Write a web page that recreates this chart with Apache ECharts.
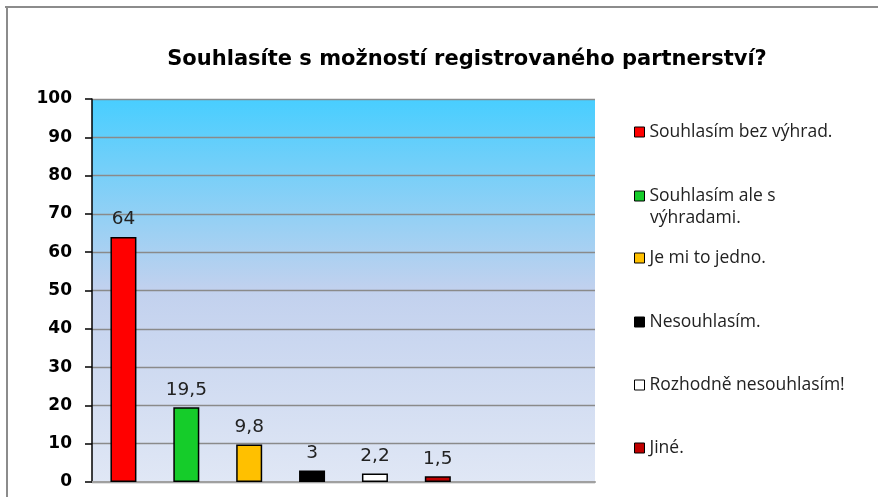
<!DOCTYPE html>
<html>
<head>
<meta charset="utf-8">
<script src="https://cdn.jsdelivr.net/npm/echarts@6/dist/echarts.min.js"></script>
<style>
html, body { margin: 0; padding: 0; background: #fff; }
#chart { width: 878px; height: 497px; }
</style>
</head>
<body>
<div id="chart"></div>
<script>
const categories = ["1", "2", "3", "4", "5", "6", "7", "8"];
const seriesNames = [
  "Souhlasím bez výhrad.",
  "Souhlasím ale s výhradami.",
  "Je mi to jedno.",
  "Nesouhlasím.",
  "Rozhodně nesouhlasím!",
  "Jiné."
];
const values = [64, 19.5, 9.8, 3, 2.2, 1.5];
const colors = ["#FF0000", "#15CC2A", "#FFC000", "#000000", "#FFFFFF", "#C00000"];
// first legend line per series; the green one wraps onto a second line
const legendLabels = [
  "Souhlasím bez výhrad.",
  "Souhlasím ale s",
  "Je mi to jedno.",
  "Nesouhlasím.",
  "Rozhodně nesouhlasím!",
  "Jiné."
];
const legendWrap = "výhradami.";
const legendCenters = [132, 196, 258, 322, 385, 448];

const chart = echarts.init(document.getElementById("chart"));

const series = seriesNames.map(function (name, i) {
  const data = categories.map(function (c, j) { return j === i ? values[i] : null; });
  return {
    name: name,
    type: "bar",
    data: data,
    barWidth: 26,
    barGap: "-100%",
    itemStyle: { color: colors[i], borderColor: "#000", borderWidth: 1.5 },
    label: {
      show: true,
      position: "top",
      distance: 8,
      color: "#222",
      fontFamily: "DejaVu Sans",
      fontSize: 18.5,
      formatter: function (p) { return String(p.value).replace(".", ","); }
    }
  };
});

const legends = seriesNames.map(function (name, i) {
  return {
    data: [name],
    left: 629,
    top: legendCenters[i] - 15.5,
    icon: "rect",
    itemWidth: 10,
    itemHeight: 10,
    itemStyle: { borderColor: "#000", borderWidth: 1 },
    textStyle: {
      fontFamily: "Open Sans",
      fontSize: 17.5,
      color: "#222",
      lineHeight: 21
    },
    formatter: function () { return legendLabels[i]; },
    selectedMode: false
  };
});

const option = {
  backgroundColor: "#fff",
  animation: false,
  title: {
    text: "Souhlasíte s možností registrovaného partnerství?",
    left: 462,
    textAlign: "center",
    top: 44,
    textStyle: { fontFamily: "DejaVu Sans", fontWeight: "bold", fontSize: 21, color: "#000" }
  },
  legend: legends,
  grid: { left: 92, right: 283, top: 99, bottom: 15, show: true, borderWidth: 0,
    backgroundColor: new echarts.graphic.LinearGradient(0, 0, 0, 1, [
      { offset: 0, color: "#48CEFF" },
      { offset: 0.5, color: "#C2D1EE" },
      { offset: 1, color: "#E0E7F5" }
    ])
  },
  xAxis: {
    type: "category",
    data: categories,
    axisLine: { lineStyle: { color: "#A0A0A0", width: 2 } },
    axisTick: { show: false },
    axisLabel: { show: false }
  },
  yAxis: {
    type: "value",
    min: 0,
    max: 100,
    interval: 10,
    axisLine: { show: true, lineStyle: { color: "#000", width: 1.5 } },
    axisTick: { show: true, length: 7, lineStyle: { color: "#000", width: 1.5 } },
    axisLabel: { margin: 20, fontFamily: "DejaVu Sans", fontWeight: "bold", fontSize: 17, color: "#000" },
    splitLine: { lineStyle: { color: "#8A8A8A", width: 1.3 } }
  },
  graphic: [
    { type: "line", shape: { x1: 5, y1: 7, x2: 878, y2: 7 }, style: { stroke: "#8C8C8C", lineWidth: 2 } },
    { type: "line", shape: { x1: 7, y1: 7, x2: 7, y2: 497 }, style: { stroke: "#8C8C8C", lineWidth: 2 } },
    { type: "text", left: 650, top: legendCenters[1] + 13,
      style: { text: legendWrap, fontFamily: "Open Sans", fontSize: 17.5, fill: "#222" } }
  ],
  series: series
};

chart.setOption(option);
</script>
</body>
</html>
